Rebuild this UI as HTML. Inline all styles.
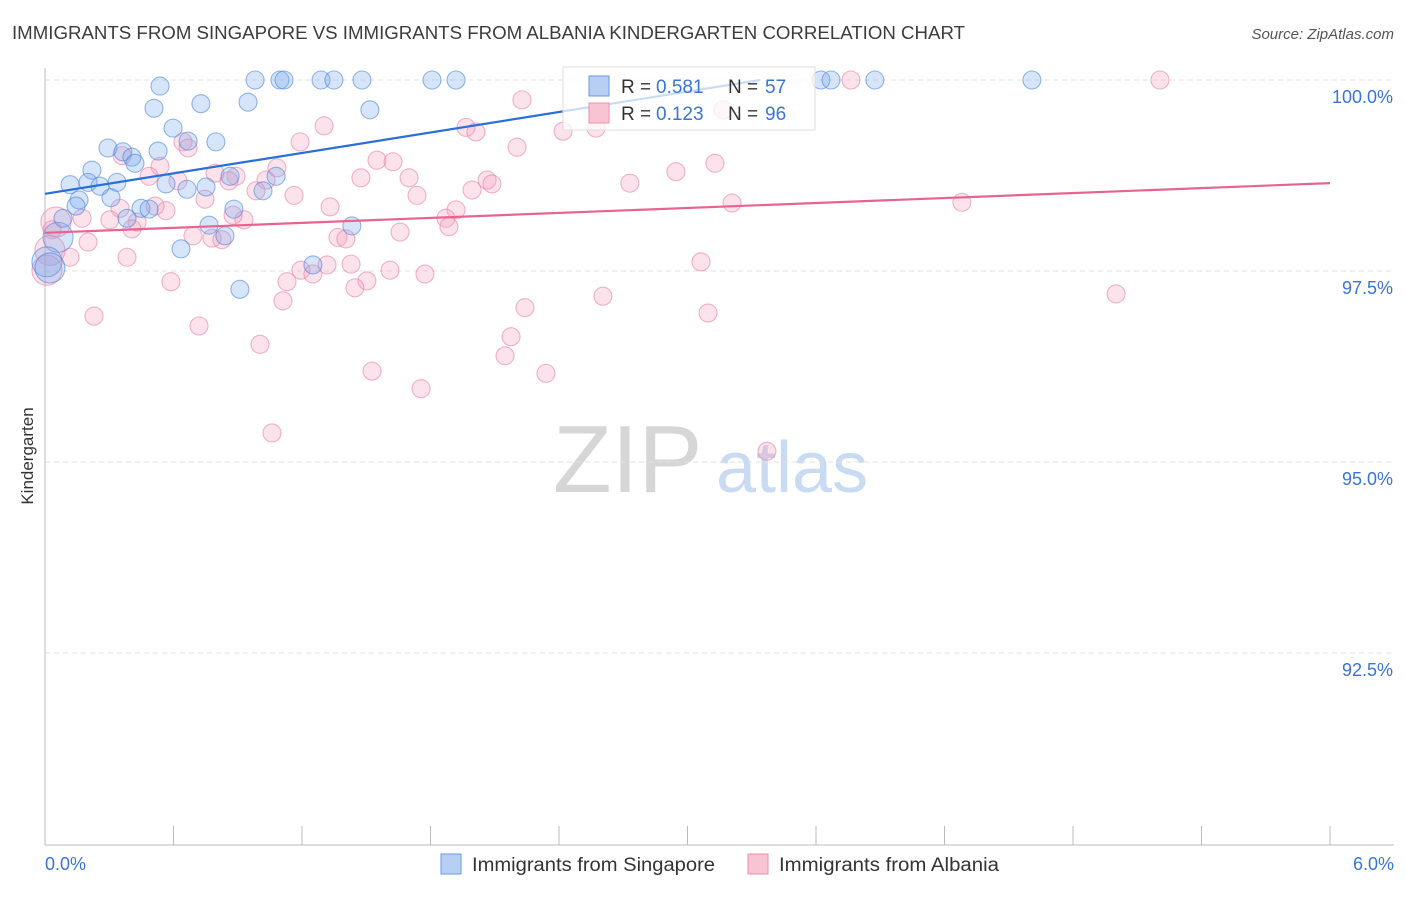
<!DOCTYPE html>
<html><head><meta charset="utf-8"><style>
body{margin:0;background:#fff;font-family:"Liberation Sans",sans-serif;}
svg text{font-family:"Liberation Sans",sans-serif;}
</style></head><body>
<svg id="chart" width="1406" height="892" viewBox="0 0 1406 892" xmlns="http://www.w3.org/2000/svg">
<text x="12" y="39" font-size="18" fill="#3c3c3c" textLength="953" lengthAdjust="spacingAndGlyphs">IMMIGRANTS FROM SINGAPORE VS IMMIGRANTS FROM ALBANIA KINDERGARTEN CORRELATION CHART</text>
<text x="1394" y="39" font-size="15" fill="#555" text-anchor="end" font-style="italic">Source: ZipAtlas.com</text>
<g>
<text x="553" y="492" font-size="96" fill="#d6d6d6" font-family="Liberation Serif, serif">ZIP</text>
<text x="716" y="492" font-size="72" fill="#c9daf3">atlas</text>
</g>
<g id="grid"></g><g id="axes"></g><g id="pts"></g><g id="trend"></g>
<text transform="translate(33,456) rotate(-90)" font-size="17" fill="#333" text-anchor="middle">Kindergarten</text>
<g>
<rect x="563" y="67" width="252" height="63" fill="#fff" fill-opacity="0.75" stroke="#ddd"/>
<rect x="589" y="76" width="20" height="20" fill="#b7cff3" stroke="#6b9ae0"/>
<text x="621" y="93" font-size="19" fill="#333">R =</text>
<text x="656" y="93" font-size="19" fill="#3a74d6">0.581</text>
<text x="728" y="93" font-size="19" fill="#333">N =</text>
<text x="765" y="93" font-size="19" fill="#3a74d6">57</text>
<rect x="589" y="103" width="20" height="20" fill="#f8c4d4" stroke="#ea8fab"/>
<text x="621" y="120" font-size="19" fill="#333">R =</text>
<text x="656" y="120" font-size="19" fill="#3a74d6">0.123</text>
<text x="728" y="120" font-size="19" fill="#333">N =</text>
<text x="765" y="120" font-size="19" fill="#3a74d6">96</text>
</g>
<g>
<rect x="441" y="854" width="20" height="20" fill="#b7cff3" stroke="#6b9ae0"/>
<text x="472" y="871" font-size="19" fill="#333" textLength="243" lengthAdjust="spacingAndGlyphs">Immigrants from Singapore</text></g>
<g>
<rect x="748" y="854" width="20" height="20" fill="#f8c4d4" stroke="#ea8fab"/>
<text x="779" y="871" font-size="19" fill="#333" textLength="220" lengthAdjust="spacingAndGlyphs">Immigrants from Albania</text></g>
</svg>
<script>
const yTicks=[100,97.5,95,92.5];
const yTickLabels=["100.0%","97.5%","95.0%","92.5%"];
const xTickLabels=["0.0%","6.0%"];
const blueX=[0.537,0.509,0.728,0.948,0.981,1.097,1.116,1.289,1.349,1.480,1.807,1.919,1.517,0.598,0.668,0.798,0.294,0.364,0.406,0.528,0.420,0.219,0.117,0.201,0.257,0.336,0.565,0.663,0.752,0.864,1.079,1.018,0.159,0.308,0.145,0.448,0.486,0.383,0.882,0.766,0.840,0.635,1.433,0.061,0.084,0.009,0.023,0.910,1.251,3.623,3.670,3.875,4.608];
const blueY=[99.92,99.63,99.69,99.71,100,100,100,100,100,100,100,100,99.61,99.37,99.20,99.19,99.11,99.06,98.99,99.07,98.91,98.82,98.63,98.66,98.61,98.66,98.64,98.57,98.60,98.74,98.74,98.55,98.43,98.46,98.35,98.32,98.31,98.19,98.31,98.10,97.96,97.79,98.09,97.94,98.19,97.62,97.54,97.26,97.58,100,100,100,100];
const blueBig=[43,45,46];
const pinkX=[5.206,3.763,2.227,3.166,1.191,1.303,1.966,2.012,2.419,2.573,2.204,0.644,0.668,0.360,0.537,0.486,0.621,0.794,0.892,0.859,1.083,1.032,1.550,1.625,1.475,1.700,1.163,0.985,0.747,1.737,1.994,2.064,2.087,1.919,1.872,1.886,2.731,2.946,3.128,3.208,4.281,1.331,0.565,0.514,0.350,0.173,0.303,0.430,0.929,0.878,0.691,0.780,0.826,0.406,0.051,0.033,0.201,1.658,1.368,1.405,0.117,0.383,0.588,1.195,1.317,1.429,1.130,1.251,1.611,1.774,1.503,1.447,1.111,0.229,0.719,1.004,2.241,2.605,3.063,3.096,2.176,2.148,1.527,2.339,1.756,1.060,3.371,5.001,0.023,0.009];
const pinkY=[100,100,99.74,99.61,99.19,99.40,99.38,99.32,99.33,99.37,99.12,99.19,99.11,99.01,98.87,98.74,98.68,98.78,98.74,98.68,98.85,98.69,98.95,98.93,98.72,98.72,98.49,98.55,98.44,98.49,98.56,98.69,98.64,98.30,98.19,98.08,98.65,98.80,98.91,98.39,98.40,98.34,98.29,98.35,98.32,98.19,98.17,98.14,98.17,98.23,97.96,97.93,97.91,98.05,98.14,98.04,97.88,98.01,97.94,97.92,97.68,97.68,97.36,97.51,97.58,97.59,97.36,97.46,97.51,97.46,97.37,97.28,97.11,96.91,96.78,96.54,97.02,97.17,97.62,96.95,96.64,96.39,96.19,96.16,95.96,95.38,95.14,97.20,97.77,97.51];
const pinkBig=[54,88,89];
const blueTrend=[[0,98.51],[3.34,100]];
const pinkTrend=[[0,98.0],[6,98.65]];
const NS="http://www.w3.org/2000/svg";
const xs=v=>45+v/6*1285;
const ys=v=>80+(100-v)/2.5*191;
function mk(t,a,p){const e=document.createElementNS(NS,t);for(const k in a)e.setAttribute(k,a[k]);document.getElementById(p).appendChild(e);return e;}
yTicks.forEach((t,i)=>{
const l=mk('line',{x1:45,x2:1394,y1:ys(t),y2:ys(t),stroke:'#e2e2e2','stroke-dasharray':'5,4'},'grid');


const tx=mk('text',{x:1393,y:ys(t)+23,'font-size':18,fill:'#3a74d6','text-anchor':'end'},'axes');
tx.textContent=yTickLabels[i];


});
const ya=mk('line',{x1:45,x2:45,y1:68,y2:845,stroke:'#bbb'},'axes');


const xa=mk('line',{x1:45,x2:1394,y1:845,y2:845,stroke:'#bbb'},'axes');


for(let i=0;i<=10;i++){const v=i*0.6;
const tk=mk('line',{x1:xs(v),x2:xs(v),y1:826,y2:845,stroke:'#bbb'},'axes');

}
[[0,'start',45],[6,'end',1394]].forEach((d,i)=>{
const tx=mk('text',{x:d[2],y:870,'font-size':18,fill:'#3a74d6','text-anchor':d[1]},'axes');
tx.textContent=xTickLabels[i];

});
function dots(X,Y,big,fill,stroke,name){X.forEach((x,i)=>{
const c=mk('circle',{cx:xs(x),cy:ys(Y[i]),r:big.includes(i)?15:9,fill:fill,stroke:stroke,'stroke-width':1.1},'pts');

});}
dots(pinkX,pinkY,pinkBig,'rgba(244,160,188,0.3)','rgba(232,130,165,0.6)','albania-point');
dots(blueX,blueY,blueBig,'rgba(120,168,238,0.3)','rgba(80,135,220,0.6)','singapore-point');
const bt=mk('line',{x1:xs(blueTrend[0][0]),y1:ys(blueTrend[0][1]),x2:xs(blueTrend[1][0]),y2:ys(blueTrend[1][1]),stroke:'#2a6fd8','stroke-width':2.2},'trend');


const pt=mk('line',{x1:xs(pinkTrend[0][0]),y1:ys(pinkTrend[0][1]),x2:xs(pinkTrend[1][0]),y2:ys(pinkTrend[1][1]),stroke:'#e8648f','stroke-width':2.2},'trend');


</script>
</body></html>
